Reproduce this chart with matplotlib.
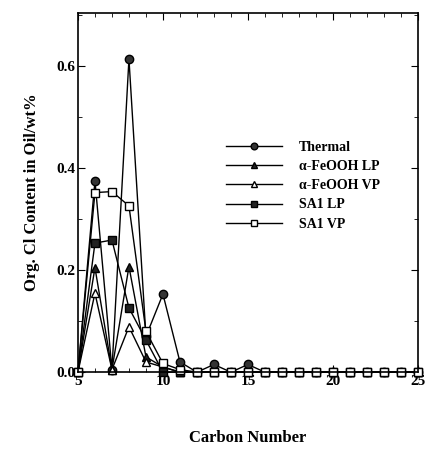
import matplotlib.pyplot as plt
from matplotlib.ticker import MultipleLocator

carbon = list(range(5, 26))

thermal = [0.0, 0.375, 0.005, 0.614, 0.07, 0.153, 0.02, 0.0, 0.015, 0.0, 0.015,
           0.0, 0.0, 0.0, 0.0, 0.0, 0.0, 0.0, 0.0, 0.0, 0.0]
feooh_lp = [0.0, 0.205, 0.005, 0.207, 0.03, 0.01, 0.0, 0.0, 0.0, 0.0, 0.0,
            0.0, 0.0, 0.0, 0.0, 0.0, 0.0, 0.0, 0.0, 0.0, 0.0]
feooh_vp = [0.0, 0.155, 0.005, 0.089, 0.02, 0.01, 0.0, 0.0, 0.0, 0.0, 0.0,
            0.0, 0.0, 0.0, 0.0, 0.0, 0.0, 0.0, 0.0, 0.0, 0.0]
sa1_lp = [0.0, 0.253, 0.259, 0.126, 0.063, 0.0, 0.0, 0.0, 0.0, 0.0, 0.0,
          0.0, 0.0, 0.0, 0.0, 0.0, 0.0, 0.0, 0.0, 0.0, 0.0]
sa1_vp = [0.0, 0.352, 0.354, 0.326, 0.08, 0.017, 0.005, 0.0, 0.0, 0.0, 0.0,
          0.0, 0.0, 0.0, 0.0, 0.0, 0.0, 0.0, 0.0, 0.0, 0.0]

labels = ["Thermal", "\u03b1-FeOOH LP", "\u03b1-FeOOH VP", "SA1 LP", "SA1 VP"]

plt.rcParams['font.family'] = ['Liberation Serif', 'DejaVu Serif']
plt.rcParams['font.weight'] = 'bold'

fig = plt.figure(figsize=(4.26, 4.5), dpi=100)
ax = fig.add_axes([0.183, 0.173, 0.798, 0.798])

ms = 6
ax.plot(carbon, thermal, color='black', lw=1, marker='o', ms=ms, mfc='#333333', mec='black', clip_on=False, label=labels[0])
ax.plot(carbon, feooh_lp, color='black', lw=1, marker='^', ms=ms, mfc='#222222', mec='black', clip_on=False, label=labels[1])
ax.plot(carbon, feooh_vp, color='black', lw=1, marker='^', ms=ms, mfc='white', mec='black', clip_on=False, label=labels[2])
ax.plot(carbon, sa1_lp, color='black', lw=1, marker='s', ms=ms, mfc='#222222', mec='black', clip_on=False, label=labels[3])
ax.plot(carbon, sa1_vp, color='black', lw=1, marker='s', ms=ms, mfc='white', mec='black', clip_on=False, label=labels[4])

ax.set_xlim(5, 25)
ax.set_ylim(0, 0.704)
ax.set_xticks([5, 10, 15, 20, 25])
ax.set_yticks([0.0, 0.2, 0.4, 0.6])
ax.set_yticklabels(["0.0", "0.2", "0.4", "0.6"])
ax.xaxis.set_minor_locator(MultipleLocator(1))
ax.yaxis.set_minor_locator(MultipleLocator(0.1))
ax.tick_params(which='both', direction='in', top=True, right=True, labelsize=11, pad=2)
ax.tick_params(which='major', length=5)
ax.tick_params(which='minor', length=3)
for s in ax.spines.values():
    s.set_linewidth(1.2)

ax.set_xlabel("Carbon Number", fontsize=12, fontweight='bold', labelpad=30)
ax.set_ylabel("Org. Cl Content in Oil/wt%", fontsize=12, fontweight='bold', labelpad=12)

ax.legend(loc='upper left', bbox_to_anchor=(0.42, 0.66), frameon=False, fontsize=10,
          handlelength=4, handletextpad=1.2, labelspacing=0.45, borderaxespad=0,
          markerscale=0.8)

fig.savefig("out.png", dpi=100)
